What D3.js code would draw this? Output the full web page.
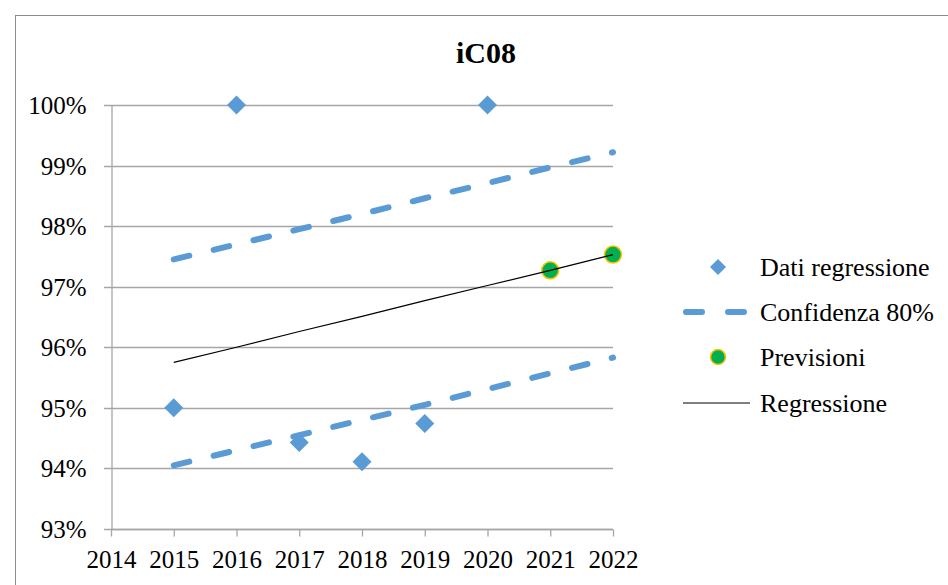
<!DOCTYPE html>
<html><head><meta charset="utf-8">
<script src="https://cdn.jsdelivr.net/npm/d3@7"></script>
<style>body{margin:0;background:#fff}svg{display:block}</style>
</head><body>
<script>
const years = [2015,2016,2017,2018,2019,2020,2021,2022];
const dataYears = [2015,2016,2017,2018,2019,2020];
const dataValues = [95.0,100.0,94.43,94.11,94.74,100.0];
const forecastYears = [2021,2022];
const forecastValues = [97.27,97.53];
const regressionValues = [95.75,96.0,96.26,96.51,96.77,97.02,97.27,97.53];
const upperValues = [97.45,97.70,97.95,98.20,98.46,98.71,98.97,99.22];
const lowerValues = [94.05,94.30,94.55,94.80,95.05,95.31,95.57,95.83];
const xTicks = [2014,2015,2016,2017,2018,2019,2020,2021,2022];
const yTicks = [93,94,95,96,97,98,99,100];
const legendLabels = ["Dati regressione","Confidenza 80%","Previsioni","Regressione"];

const W=948,H=585;
const svg=d3.select("body").append("svg").attr("width",W).attr("height",H);
const font="'Liberation Serif','Times New Roman',serif";
const blue="#5B9BD5";
svg.append("rect").attr("x",15.5).attr("y",15.5).attr("width",W).attr("height",H).attr("fill","#fff").attr("stroke","#8c8c8c").attr("stroke-width",1);

const x=d3.scaleLinear().domain([2014,2022]).range([111,613]);
const y=d3.scaleLinear().domain([93,100]).range([529,105]);

svg.append("text").attr("x",486).attr("y",63).attr("text-anchor","middle")
  .style("font-family",font).style("font-weight","bold").style("font-size","30px").text("iC08");

// gridlines
const g=svg.append("g");
g.selectAll("line.grid").data(yTicks).join("line")
  .attr("x1",104).attr("x2",613).attr("y1",d=>Math.round(y(d))+0.5).attr("y2",d=>Math.round(y(d))+0.5)
  .attr("stroke","#a6a6a6").attr("stroke-width",1.3);
// y axis
const yAxis=d3.axisLeft(y).tickValues(yTicks).tickSize(0).tickPadding(25).tickFormat(d=>d+"%");
const ya=svg.append("g").attr("transform","translate(111.5,0)").call(yAxis);
ya.select(".domain").attr("stroke","#a6a6a6").attr("stroke-width",1.3);
ya.selectAll("text").style("font-family",font).style("font-size","25px").attr("fill","#000").attr("dy","0.34em");
// x axis
const xAxis=d3.axisBottom(x).tickValues(xTicks).tickSize(7).tickPadding(10).tickFormat(d3.format("d"));
const xa=svg.append("g").attr("transform","translate(0,529.5)").call(xAxis);
xa.select(".domain").attr("stroke","#a6a6a6").attr("stroke-width",1.3).attr("d","M111,0H613");
xa.selectAll(".tick line").attr("stroke","#a6a6a6").attr("stroke-width",1.3);
xa.selectAll("text").style("font-family",font).style("font-size","25px").attr("fill","#000").attr("y",38.5).attr("dy",0);

const line=d3.line().x(d=>x(d[0])).y(d=>y(d[1]));
[upperValues,lowerValues].forEach(vals=>{
  svg.append("path").datum(years.map((yr,i)=>[yr,vals[i]])).attr("d",line)
    .attr("fill","none").attr("stroke",blue).attr("stroke-width",6)
    .attr("stroke-linecap","round").attr("stroke-dasharray","16,25");
});

function diamondPath(s){return `M0,${-s}L${s},0L0,${s}L${-s},0Z`;}
svg.selectAll("path.dia").data(dataYears.map((yr,i)=>[yr,dataValues[i]])).join("path")
  .attr("d",diamondPath(9.5)).attr("transform",d=>`translate(${x(d[0])},${y(d[1])})`).attr("fill",blue);

svg.selectAll("circle.fc").data(forecastYears.map((yr,i)=>[yr,forecastValues[i]])).join("circle")
  .attr("cx",d=>x(d[0])).attr("cy",d=>y(d[1])).attr("r",8.5)
  .attr("fill","#00B050").attr("stroke","#FFC000").attr("stroke-width",1.5);
svg.append("path").datum(years.map((yr,i)=>[yr,regressionValues[i]])).attr("d",line)
  .attr("fill","none").attr("stroke","#000").attr("stroke-width",1.2);

// legend
const lg=svg.append("g");
const ly=[267,312,357,403];
lg.append("path").attr("d",diamondPath(8)).attr("transform",`translate(718,${ly[0]})`).attr("fill",blue);
lg.append("line").attr("x1",686).attr("x2",746).attr("y1",ly[1]).attr("y2",ly[1])
  .attr("stroke",blue).attr("stroke-width",6).attr("stroke-linecap","round").attr("stroke-dasharray","16,26");
lg.append("circle").attr("cx",718).attr("cy",ly[2]).attr("r",7.5).attr("fill","#00B050").attr("stroke","#FFC000").attr("stroke-width",1.5);
lg.append("line").attr("x1",683).attr("x2",750).attr("y1",ly[3]).attr("y2",ly[3]).attr("stroke","#000").attr("stroke-width",1.2);
lg.selectAll("text").data(legendLabels).join("text")
  .attr("x",760).attr("y",(d,i)=>ly[i]).attr("dy","0.36em")
  .style("font-family",font).style("font-size","26px").attr("fill","#000").text(d=>d);
</script>
</body></html>
